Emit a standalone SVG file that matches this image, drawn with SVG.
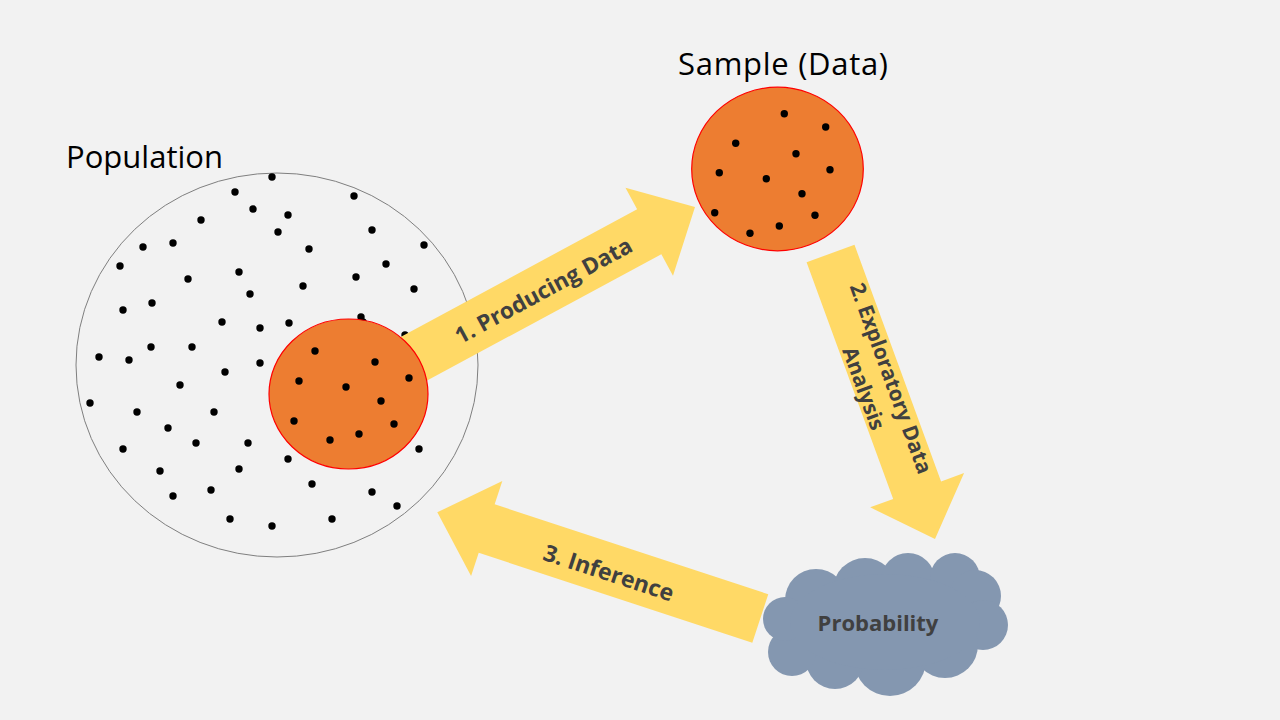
<svg xmlns="http://www.w3.org/2000/svg" width="1280" height="720" viewBox="0 0 1280 720">
<style>
.dot{fill:#000}
.arrow{fill:#FFD966}
.albl{font-family:"Open Sans","Liberation Sans",sans-serif;font-weight:bold;font-size:22px;fill:#404040;text-anchor:middle;dominant-baseline:central}
.title{font-family:"Open Sans","Liberation Sans",sans-serif;font-size:31px;fill:#000}
.orange{fill:#ED7D31;stroke:#FF0000;stroke-width:1.2}
.cloud{fill:#8497B0}
</style>
<rect width="1280" height="720" fill="#F2F2F2"/>

<g id="population">
<ellipse cx="277" cy="365" rx="201" ry="192" fill="none" stroke="#7F7F7F" stroke-width="1"/>
<text class="title" x="66" y="168" textLength="157">Population</text>
<g class="dot">
<circle cx="272" cy="177" r="3.7"/><circle cx="235" cy="192" r="3.7"/><circle cx="253" cy="209" r="3.7"/>
<circle cx="288" cy="215" r="3.7"/><circle cx="354" cy="196" r="3.7"/><circle cx="201" cy="220" r="3.7"/>
<circle cx="278" cy="232" r="3.7"/><circle cx="372" cy="230" r="3.7"/><circle cx="143" cy="247" r="3.7"/>
<circle cx="173" cy="243" r="3.7"/><circle cx="309" cy="249" r="3.7"/><circle cx="424" cy="245" r="3.7"/>
<circle cx="120" cy="266" r="3.7"/><circle cx="386" cy="264" r="3.7"/><circle cx="188" cy="279" r="3.7"/>
<circle cx="239" cy="272" r="3.7"/><circle cx="356" cy="277" r="3.7"/><circle cx="303" cy="286" r="3.7"/>
<circle cx="414" cy="289" r="3.7"/><circle cx="250" cy="294" r="3.7"/><circle cx="123" cy="310" r="3.7"/>
<circle cx="152" cy="303" r="3.7"/><circle cx="222" cy="322" r="3.7"/><circle cx="260" cy="328" r="3.7"/>
<circle cx="289" cy="323" r="3.7"/><circle cx="361" cy="317" r="3.7"/><circle cx="363" cy="322" r="3.7"/>
<circle cx="405" cy="335" r="3.7"/><circle cx="99" cy="357" r="3.7"/><circle cx="129" cy="360" r="3.7"/>
<circle cx="151" cy="347" r="3.7"/><circle cx="192" cy="347" r="3.7"/><circle cx="260" cy="363" r="3.7"/>
<circle cx="225" cy="372" r="3.7"/><circle cx="180" cy="385" r="3.7"/><circle cx="90" cy="403" r="3.7"/>
<circle cx="137" cy="412" r="3.7"/><circle cx="214" cy="412" r="3.7"/><circle cx="168" cy="428" r="3.7"/>
<circle cx="123" cy="449" r="3.7"/><circle cx="196" cy="443" r="3.7"/><circle cx="248" cy="443" r="3.7"/>
<circle cx="288" cy="459" r="3.7"/><circle cx="419" cy="449" r="3.7"/><circle cx="160" cy="471" r="3.7"/>
<circle cx="239" cy="469" r="3.7"/><circle cx="173" cy="496" r="3.7"/><circle cx="211" cy="490" r="3.7"/>
<circle cx="312" cy="484" r="3.7"/><circle cx="372" cy="492" r="3.7"/><circle cx="397" cy="506" r="3.7"/>
<circle cx="230" cy="519" r="3.7"/><circle cx="272" cy="526" r="3.7"/><circle cx="332" cy="519" r="3.7"/>
</g>
</g>

<g id="connectors">
<g id="arrow1" transform="translate(695,207) rotate(-28.36)">
<path class="arrow" d="M0,0 L-52,-50 L-52,-25.5 L-394,-25.5 L-394,25.5 L-52,25.5 L-52,50 Z"/>
<text class="albl" x="-173" y="1" style="font-size:22.5px">1. Producing Data</text>
</g>
<g id="arrow2" transform="translate(935,539) rotate(69.9)">
<path class="arrow" d="M0,0 L-52,-50 L-52,-25.5 L-304,-25.5 L-304,25.5 L-52,25.5 L-52,50 Z"/>
<text class="albl" x="-166" y="-14.5" style="font-size:21px">2. Exploratory Data</text>
<text class="albl" x="-166" y="14.5" style="font-size:21px">Analysis</text>
</g>
<g id="arrow3">
<path class="arrow" transform="translate(437.3,512.3) rotate(198.2)" d="M0,0 L-52,-50 L-52,-25.5 L-340,-25.5 L-340,25.5 L-52,25.5 L-52,50 Z"/>
<text class="albl" transform="translate(609,572) rotate(18.2)" x="0" y="0" style="font-size:23px">3. Inference</text>
</g>
</g>

<g id="subsample">
<ellipse class="orange" cx="348.5" cy="394" rx="79.5" ry="75"/>
<g class="dot">
<circle cx="315" cy="351" r="3.7"/><circle cx="375" cy="362" r="3.7"/><circle cx="299" cy="381" r="3.7"/>
<circle cx="346" cy="387" r="3.7"/><circle cx="409" cy="378" r="3.7"/><circle cx="381" cy="401" r="3.7"/>
<circle cx="294" cy="421" r="3.7"/><circle cx="394" cy="424" r="3.7"/><circle cx="359" cy="434" r="3.7"/>
<circle cx="330" cy="440" r="3.7"/>
</g>
</g>

<g id="sample">
<text class="title" x="678" y="75" textLength="210">Sample (Data)</text>
<ellipse class="orange" cx="777.5" cy="169" rx="85.8" ry="81.8"/>
<g class="dot">
<circle cx="784.3" cy="113.7" r="3.7"/><circle cx="825.7" cy="127" r="3.7"/><circle cx="735.7" cy="143.3" r="3.7"/>
<circle cx="796" cy="153.7" r="3.7"/><circle cx="719.3" cy="172.7" r="3.7"/><circle cx="766.3" cy="178.7" r="3.7"/>
<circle cx="830" cy="169.7" r="3.7"/><circle cx="802" cy="193.7" r="3.7"/><circle cx="714.7" cy="212.7" r="3.7"/>
<circle cx="815" cy="215.3" r="3.7"/><circle cx="779.3" cy="226" r="3.7"/><circle cx="750" cy="233.3" r="3.7"/>
</g>
</g>

<g id="probability">
<g class="cloud">
<circle cx="816" cy="600" r="31"/>
<circle cx="865" cy="590" r="32"/>
<circle cx="908" cy="580" r="27"/>
<circle cx="955" cy="578" r="25"/>
<circle cx="975" cy="596" r="26"/>
<circle cx="983" cy="625" r="25"/>
<circle cx="945" cy="645" r="33"/>
<circle cx="890" cy="660" r="36"/>
<circle cx="835" cy="660" r="29"/>
<circle cx="792" cy="652" r="24"/>
<circle cx="785" cy="619" r="22"/>
<ellipse cx="885" cy="622" rx="95" ry="48"/>
</g>
<text class="albl" x="878" y="622">Probability</text>
</g>
</svg>
